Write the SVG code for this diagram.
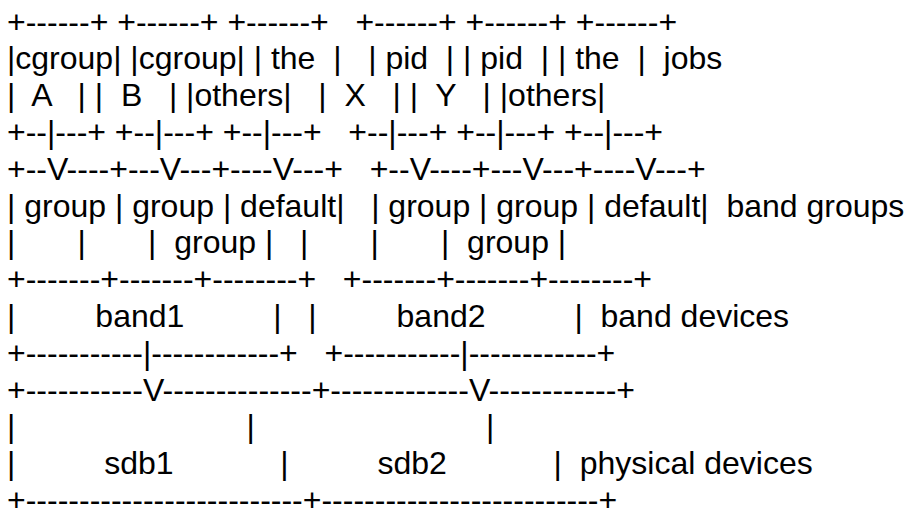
<svg xmlns="http://www.w3.org/2000/svg" width="909" height="521" viewBox="0 0 909 521">
<style>
text { font-family: "Liberation Sans", Arial, sans-serif; font-size: 32px; fill: #000; white-space: pre; }
</style>
<rect width="909" height="521" fill="#fff"/>
<g id="ascii" xml:space="preserve">
<text x="7" y="32.5">+------+ +------+ +------+   +------+ +------+ +------+</text>
<text x="7" y="69.3">|cgroup| |cgroup| | the  |   | pid  | | pid  | | the  |  jobs</text>
<text x="7" y="106.1">|  A   | |  B   | |others|   |  X   | |  Y   | |others|</text>
<text x="7" y="142.9">+--|---+ +--|---+ +--|---+   +--|---+ +--|---+ +--|---+</text>
<text x="7" y="179.7">+--V----+---V---+----V---+   +--V----+---V---+----V---+</text>
<text x="7" y="216.5">| group | group | default|   | group | group | default|  band groups</text>
<text x="7" y="253.3">|       |       |  group |   |       |       |  group |</text>
<text x="7" y="290.1">+-------+-------+--------+   +-------+-------+--------+</text>
<text x="7" y="326.9">|         band1          |   |         band2          |  band devices</text>
<text x="7" y="363.7">+-----------|------------+   +-----------|------------+</text>
<text x="7" y="400.5">+-----------V--------------+-------------V------------+</text>
<text x="7" y="437.3">|                          |                          |</text>
<text x="7" y="474.1">|          sdb1            |          sdb2            |  physical devices</text>
<text x="7" y="510.9">+--------------------------+--------------------------+</text>
</g>
</svg>
